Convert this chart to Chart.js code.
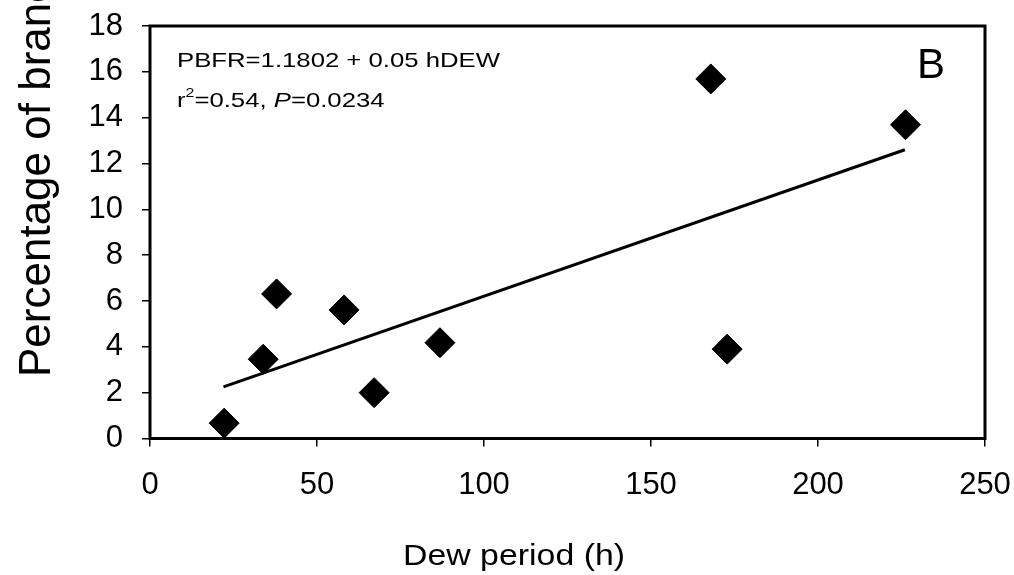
<!DOCTYPE html>
<html>
<head>
<meta charset="utf-8">
<script src="https://cdn.jsdelivr.net/npm/chart.js@4"></script>
<style>
  html, body { margin: 0; padding: 0; background: #fff; }
  #c { display: block; }
</style>
</head>
<body>
<canvas id="c" width="1014" height="575"></canvas>
<script>
// ---- Data ----
const dewPeriod = [22.2, 33.9, 37.9, 58.1, 67.1, 86.8, 167.9, 172.8, 226.2];
const branchPct = [0.67, 3.46, 6.31, 5.61, 2.0, 4.18, 15.69, 3.90, 13.69];
const fitX = [22, 226];
const fitY = [2.25, 12.6];
const xTicks = [0, 50, 100, 150, 200, 250];
const yTicks = [0, 2, 4, 6, 8, 10, 12, 14, 16, 18];
const xTitle = 'Dew period (h)';
const yTitle = 'Percentage of branc';
const eqLine = 'PBFR=1.1802 + 0.05 hDEW';
const panelLabel = 'B';

const FONT = '"Liberation Sans", Arial, Helvetica, sans-serif';

function stretchedText(ctx, text, x, y, size, sx, style) {
  ctx.save();
  ctx.font = (style ? style + ' ' : '') + size + 'px ' + FONT;
  ctx.translate(x, y);
  ctx.scale(sx, 1);
  ctx.fillText(text, 0, 0);
  const w = ctx.measureText(text).width * sx;
  ctx.restore();
  return w;
}

const decorations = {
  id: 'decorations',
  afterDraw(chart) {
    const { ctx, chartArea: a } = chart;
    ctx.save();
    ctx.strokeStyle = '#000';
    ctx.lineWidth = 3;
    ctx.strokeRect(a.left, a.top, a.right - a.left, a.bottom - a.top);

    ctx.fillStyle = '#000';
    ctx.textAlign = 'left';
    ctx.textBaseline = 'alphabetic';

    // regression annotation
    ctx.font = '21px ' + FONT;
    const sx = 323 / ctx.measureText(eqLine).width;
    stretchedText(ctx, eqLine, 177, 67, 21, sx);
    let x = 177;
    x += stretchedText(ctx, 'r', x, 107, 21, sx);
    x += stretchedText(ctx, '2', x, 97, 13, sx);
    x += stretchedText(ctx, '=0.54, ', x, 107, 21, sx);
    x += stretchedText(ctx, 'P', x, 107, 21, sx, 'italic');
    stretchedText(ctx, '=0.0234', x, 107, 21, sx);

    // panel label
    ctx.font = '42px ' + FONT;
    ctx.fillText(panelLabel, 917, 78);

    // x-axis title
    ctx.font = '30px ' + FONT;
    const wx = ctx.measureText(xTitle).width;
    stretchedText(ctx, xTitle, 403, 565, 30, 222 / wx);

    // y-axis title (rotated, clipped at top)
    ctx.save();
    ctx.translate(50, 377);
    ctx.rotate(-Math.PI / 2);
    ctx.font = '44px ' + FONT;
    ctx.fillText(yTitle, 0, 0);
    ctx.restore();

    ctx.restore();
  }
};

new Chart(document.getElementById('c'), {
  type: 'scatter',
  data: {
    datasets: [
      {
        label: 'Observed',
        data: dewPeriod.map((v, i) => ({ x: v, y: branchPct[i] })),
        pointStyle: 'rectRot',
        pointRadius: 15,
        pointHoverRadius: 15,
        backgroundColor: '#000',
        borderColor: '#000',
        borderWidth: 1,
        order: 1
      },
      {
        label: 'Fit',
        type: 'line',
        data: fitX.map((v, i) => ({ x: v, y: fitY[i] })),
        borderColor: '#000',
        borderWidth: 3,
        pointRadius: 0,
        fill: false,
        order: 2
      }
    ]
  },
  options: {
    responsive: false,
    devicePixelRatio: 1,
    animation: false,
    events: [],
    layout: { padding: { left: 0, top: 26, right: 29, bottom: 0 } },
    plugins: {
      legend: { display: false },
      tooltip: { enabled: false }
    },
    scales: {
      x: {
        type: 'linear',
        min: 0, max: 250,
        afterBuildTicks(scale) { scale.ticks = xTicks.map(v => ({ value: v })); },
        afterFit(scale) { scale.height = 136.5; scale.paddingLeft = 0; scale.paddingRight = 0; },
        grid: { display: true, drawOnChartArea: false, drawTicks: true, tickLength: 8, color: '#000', lineWidth: 1.5 },
        border: { display: false },
        ticks: { color: '#000', padding: 20, font: { family: FONT, size: 31 }, maxRotation: 0 }
      },
      y: {
        type: 'linear',
        min: 0, max: 18,
        afterBuildTicks(scale) { scale.ticks = yTicks.map(v => ({ value: v })); },
        afterFit(scale) { scale.width = 150; scale.paddingTop = 0; scale.paddingBottom = 0; },
        grid: { display: true, drawOnChartArea: false, drawTicks: true, tickLength: 8, color: '#000', lineWidth: 1.5 },
        border: { display: false },
        ticks: { color: '#000', padding: 19, font: { family: FONT, size: 31 } }
      }
    }
  },
  plugins: [decorations]
});
</script>
</body>
</html>
